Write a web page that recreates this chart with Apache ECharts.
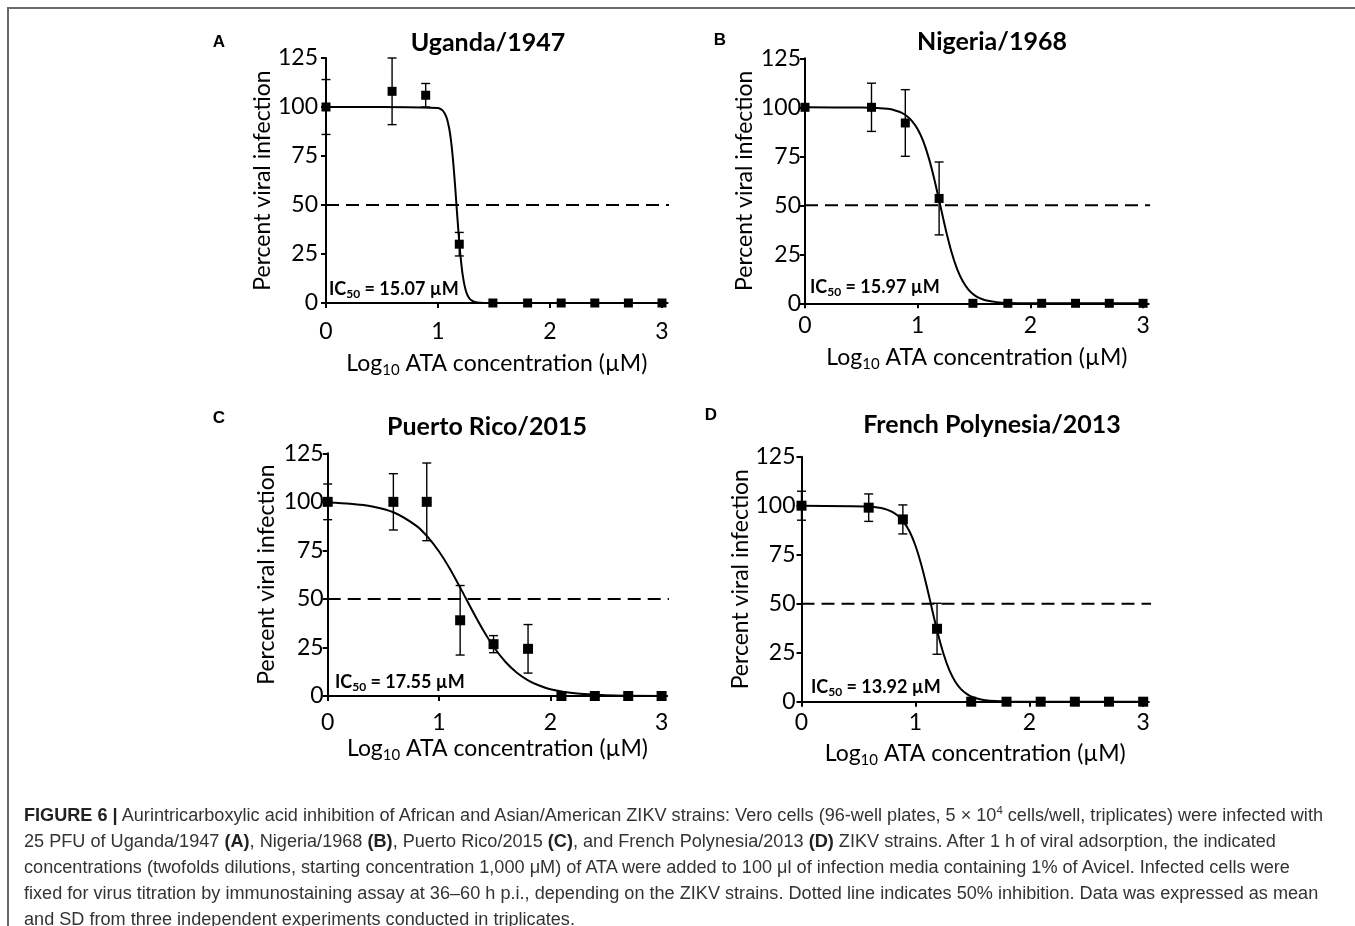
<!DOCTYPE html>
<html>
<head>
<meta charset="utf-8">
<script src="https://cdn.jsdelivr.net/npm/echarts@6/dist/echarts.min.js"></script>
<style>
html,body{margin:0;padding:0;background:#fff;}
#wrap{position:relative;width:1355px;height:926px;overflow:hidden;}
#chart{position:absolute;left:0;top:0;width:1355px;height:926px;}
#frame{position:absolute;left:7px;top:7px;right:0;bottom:0;border-top:2px solid #6a6a6a;border-left:2px solid #6a6a6a;pointer-events:none;}
#caption{position:absolute;left:24px;top:802px;font-family:"Liberation Sans Narrow","Liberation Sans",Arial,sans-serif;font-size:17.5px;line-height:26px;color:#333;white-space:nowrap;}
#caption .ln{display:block;transform-origin:0 50%;}
#caption b{font-weight:bold;color:#222;}
#caption sup{font-size:11px;vertical-align:7px;line-height:0;}
</style>
</head>
<body>
<div id="wrap">
<div id="chart"></div>
<div id="frame"></div>
<div id="caption">
<span class="ln"><b>FIGURE 6 |</b> Aurintricarboxylic acid inhibition of African and Asian/American ZIKV strains: Vero cells (96-well plates, 5 × 10<sup>4</sup> cells/well, triplicates) were infected with</span>
<span class="ln">25 PFU of Uganda/1947 <b>(A)</b>, Nigeria/1968 <b>(B)</b>, Puerto Rico/2015 <b>(C)</b>, and French Polynesia/2013 <b>(D)</b> ZIKV strains. After 1 h of viral adsorption, the indicated</span>
<span class="ln">concentrations (twofolds dilutions, starting concentration 1,000 μM) of ATA were added to 100 μl of infection media containing 1% of Avicel. Infected cells were</span>
<span class="ln">fixed for virus titration by immunostaining assay at 36–60 h p.i., depending on the ZIKV strains. Dotted line indicates 50% inhibition. Data was expressed as mean</span>
<span class="ln">and SD from three independent experiments conducted in triplicates.</span>
</div>
</div>
<script>
// ---------------- data ----------------
const panelTitles = ['Uganda/1947', 'Nigeria/1968', 'Puerto Rico/2015', 'French Polynesia/2013'];
const panelLetters = ['A', 'B', 'C', 'D'];
const ic50Values = ['15.07', '15.97', '17.55', '13.92'];
const xTicks = [0, 1, 2, 3];
const yTicks = [0, 25, 50, 75, 100, 125];
const refLevel = 50;

// log10 ATA concentration of the measured points
const xConc = [0, 0.59, 0.89, 1.19, 1.49, 1.80, 2.10, 2.40, 2.70, 3.00];

const meanA = [100, 108, 106, 30, 0, 0, 0, 0, 0, 0];
const sdA   = [14, 17, 6, 6, 0, 0, 0, 0, 0, 0];
const meanB = [100, 100, 92, 53.5, 0, 0, 0, 0, 0, 0];
const sdB   = [0, 12.3, 17, 18.6, 0, 0, 0, 0, 0, 0];
const meanC = [100, 100, 100, 39, 26.7, 24.3, 0, 0, 0, 0];
const sdC   = [9.2, 14.5, 20, 17.9, 4.4, 12.5, 0, 0, 0, 0];
const meanD = [100, 99, 93, 37.2, 0, 0, 0, 0, 0, 0];
const sdD   = [7.4, 7, 7.4, 13, 0, 0, 0, 0, 0, 0];

// fitted curves
const curveAx = [0, 0.5, 1.0, 1.02, 1.04, 1.06, 1.08, 1.10, 1.11, 1.12, 1.13, 1.14, 1.15, 1.16, 1.17, 1.18, 1.19, 1.20, 1.21, 1.22, 1.235, 1.25, 1.265, 1.28, 1.30, 1.33, 1.38, 1.45, 2, 3];
const curveAy = [100, 100, 99.5, 99.1, 98.3, 96.7, 94, 89, 85.5, 81, 75.5, 69, 61.8, 54, 46, 38.3, 30.9, 24.5, 19, 14.5, 9.5, 6, 3.8, 2.4, 1.3, 0.5, 0.1, 0, 0, 0];
const curveBx = [0, 0.5, 0.6, 0.7, 0.75, 0.8, 0.85, 0.9, 0.95, 1.0, 1.05, 1.1, 1.15, 1.2, 1.25, 1.3, 1.35, 1.4, 1.45, 1.5, 1.55, 1.6, 1.7, 1.8, 2, 3];
const curveBy = [100, 99.9, 99.8, 99.4, 99.1, 98.4, 97.4, 95.7, 93.0, 88.8, 82.6, 73.8, 62.7, 50, 37.3, 26.2, 17.4, 11.2, 7.0, 4.3, 2.6, 1.6, 0.6, 0.2, 0, 0];
const curveCx = [0, 0.2, 0.4, 0.6, 0.8, 0.9, 1.0, 1.1, 1.2, 1.3, 1.4, 1.5, 1.6, 1.7, 1.8, 1.9, 2.0, 2.2, 2.5, 3];
const curveCy = [99.6, 99, 97.6, 94.4, 87.5, 81.8, 74.4, 65.3, 54.8, 43.9, 33.6, 24.6, 17.4, 12, 8.1, 5.4, 3.5, 1.5, 0.4, 0.05];
const curveDx = [0, 0.6, 0.7, 0.75, 0.8, 0.85, 0.9, 0.95, 1.0, 1.05, 1.1, 1.15, 1.2, 1.25, 1.3, 1.35, 1.4, 1.45, 1.5, 1.55, 1.6, 1.7, 1.8, 3];
const curveDy = [100, 99.6, 98.8, 98.0, 96.7, 94.7, 91.5, 86.7, 79.7, 70.3, 58.8, 46.2, 34.1, 23.8, 15.8, 10.2, 6.4, 4.0, 2.4, 1.5, 0.9, 0.3, 0.1, 0];

const means = [meanA, meanB, meanC, meanD];
const sds = [sdA, sdB, sdC, sdD];
const curvesX = [curveAx, curveBx, curveCx, curveDx];
const curvesY = [curveAy, curveBy, curveCy, curveDy];

// ---------------- layout ----------------
const FONT = 'Lato, "Open Sans", sans-serif';
const XMAX = 3.05;
const layout = [
  {left: 326, top: 58, unit: 112.0, height: 245, xLabM: 17, xNameGap: 47, yLabM: 8, yNameGap: 50, sym: 9,
   letter: [219, 42], title: [488, 43], ic: [329, 289]},
  {left: 805, top: 58.3, unit: 112.7, height: 245, xLabM: 11, xNameGap: 40, yLabM: 4, yNameGap: 49, sym: 9,
   letter: [720, 40], title: [992, 42], ic: [810, 287]},
  {left: 327.7, top: 453.3, unit: 111.3, height: 242.7, xLabM: 15, xNameGap: 39, yLabM: 4, yNameGap: 50, sym: 10,
   letter: [219, 418], title: [487, 427], ic: [335, 682]},
  {left: 801.5, top: 456.7, unit: 113.9, height: 245, xLabM: 9, xNameGap: 38, yLabM: 6, yNameGap: 47, sym: 10,
   letter: [711, 415], title: [992, 425], ic: [811, 687]}
];

const grids = [], xAxes = [], yAxes = [], series = [], graphics = [];

layout.forEach((L, i) => {
  grids.push({left: L.left, top: L.top, width: L.unit * XMAX, height: L.height, containLabel: false});
  xAxes.push({
    type: 'value', gridIndex: i, min: 0, max: XMAX, interval: 1,
    name: 'Log{s|10} ATA concentration (µM)', nameLocation: 'middle', nameGap: L.xNameGap,
    nameTextStyle: {fontFamily: FONT, fontSize: 23, color: '#000', lineHeight: 28,
      rich: {s: {fontFamily: FONT, fontSize: 15, color: '#000', lineHeight: 14, verticalAlign: 'bottom'}}},
    axisLine: {show: true, onZero: false, lineStyle: {color: '#000', width: 2}},
    axisTick: {show: true, length: 5, lineStyle: {color: '#000', width: 2}, customValues: xTicks},
    axisLabel: {fontFamily: FONT, fontSize: 23, color: '#000', margin: L.xLabM, customValues: xTicks,
      formatter: v => (Math.abs(v - Math.round(v)) < 1e-6 ? String(Math.round(v)) : '')},
    splitLine: {show: false}
  });
  yAxes.push({
    type: 'value', gridIndex: i, min: 0, max: 125, interval: 25,
    name: 'Percent viral infection', nameLocation: 'middle', nameGap: L.yNameGap,
    nameTextStyle: {fontFamily: FONT, fontSize: 23, color: '#000'},
    axisLine: {show: true, lineStyle: {color: '#000', width: 2}},
    axisTick: {show: true, length: 5, lineStyle: {color: '#000', width: 2}, customValues: yTicks},
    axisLabel: {fontFamily: FONT, fontSize: 23, color: '#000', margin: L.yLabM, customValues: yTicks},
    splitLine: {show: false}
  });

  // 50% reference line
  series.push({
    type: 'line', xAxisIndex: i, yAxisIndex: i, clip: false, silent: true,
    data: [[0, refLevel], [3.12, refLevel]], symbol: 'none', z: 1,
    lineStyle: {color: '#000', width: 2, type: [13, 7]}
  });
  // fitted curve
  series.push({
    type: 'line', xAxisIndex: i, yAxisIndex: i, symbol: 'none', z: 2,
    smooth: 0.25,
    data: curvesX[i].map((x, k) => [x, curvesY[i][k]]),
    lineStyle: {color: '#000', width: 2}
  });
  // error bars
  series.push({
    type: 'custom', xAxisIndex: i, yAxisIndex: i, z: 3,
    data: xConc.map((x, k) => [x, means[i][k], sds[i][k]]),
    renderItem: (params, api) => {
      const x = api.value(0), m = api.value(1), s = api.value(2);
      if (!s) return null;
      const pt = api.coord([x, m + s]);
      const pb = api.coord([x, m - s]);
      const cap = 4.5;
      const st = {stroke: '#000', lineWidth: 1.4};
      return {type: 'group', children: [
        {type: 'line', shape: {x1: pt[0], y1: pt[1], x2: pb[0], y2: pb[1]}, style: st},
        {type: 'line', shape: {x1: pt[0] - cap, y1: pt[1], x2: pt[0] + cap, y2: pt[1]}, style: st},
        {type: 'line', shape: {x1: pb[0] - cap, y1: pb[1], x2: pb[0] + cap, y2: pb[1]}, style: st}
      ]};
    }
  });
  // mean points
  series.push({
    type: 'scatter', xAxisIndex: i, yAxisIndex: i, z: 4, clip: false,
    symbol: 'rect', symbolSize: L.sym,
    data: xConc.map((x, k) => [x, means[i][k]]),
    itemStyle: {color: '#000', opacity: 1}
  });

  graphics.push({type: 'text', x: L.letter[0], y: L.letter[1],
    style: {text: panelLetters[i], font: 'bold 17px "Liberation Sans", Arial, sans-serif', fill: '#000', align: 'center', verticalAlign: 'middle'}});
  graphics.push({type: 'text', x: L.title[0], y: L.title[1],
    style: {text: panelTitles[i], fontFamily: FONT, fontWeight: 'bold', fontSize: 25, fill: '#000', align: 'center', verticalAlign: 'middle'}});
  graphics.push({type: 'text', x: L.ic[0], y: L.ic[1],
    style: {text: '{b|IC}{s|50}{b| = ' + ic50Values[i] + ' µM}', align: 'left', verticalAlign: 'middle',
      rich: {
        b: {fontFamily: FONT, fontWeight: 'bold', fontSize: 18, fill: '#000', lineHeight: 22},
        s: {fontFamily: FONT, fontWeight: 'bold', fontSize: 12, fill: '#000', lineHeight: 12, verticalAlign: 'bottom'}
      }}});
});

const chart = echarts.init(document.getElementById('chart'), null, {renderer: 'canvas'});
chart.setOption({
  backgroundColor: '#fff',
  animation: false,
  grid: grids, xAxis: xAxes, yAxis: yAxes, series: series, graphic: graphics
});

// fit caption width to the reference line length
(function () {
  const lines = document.querySelectorAll('#caption .ln');
  const w0 = lines[0].getBoundingClientRect().width;
  const target = 1299;
  const f = target / w0;
  lines.forEach(l => { l.style.transform = 'scaleX(' + f + ')'; });
})();
</script>
</body>
</html>
